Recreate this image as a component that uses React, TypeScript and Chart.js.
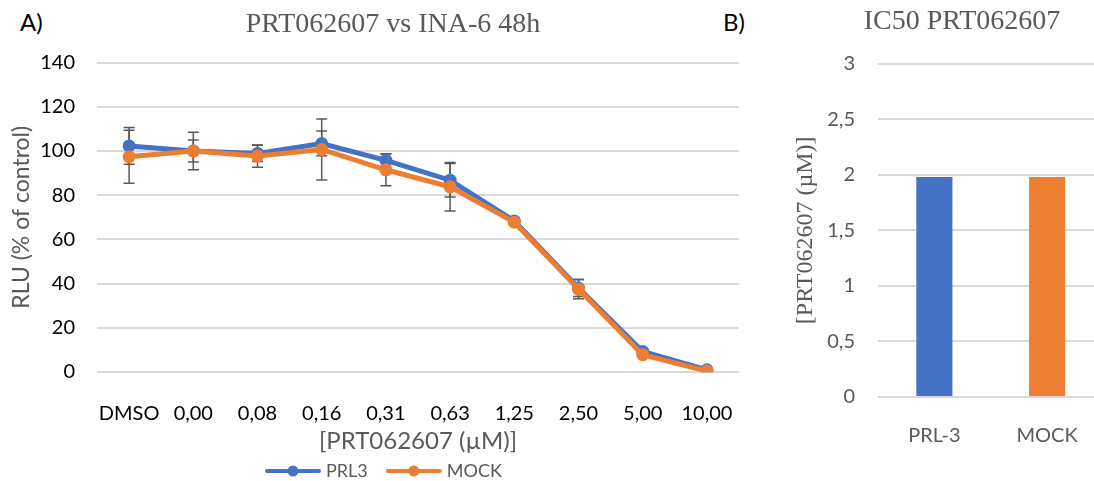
import React, { useEffect, useRef } from 'react';
import { Chart, registerables } from 'chart.js';

Chart.register(...registerables);

// ---- Data (panel A) ----
const concentrations = ['DMSO', '0,00', '0,08', '0,16', '0,31', '0,63', '1,25', '2,50', '5,00', '10,00'];
const prl3Values = [102.3, 100, 98.9, 103.4, 95.8, 86.8, 68.3, 38, 9.3, 1];
const mockValues = [97.4, 100, 97.7, 100.7, 91.5, 83.8, 67.8, 37.5, 7.8, 0.4];
const prl3Errors = [8.3, 8.5, 3.7, 5.6, 2.8, 7.6, 1.5, 3.8, 0.8, 0.3];
const mockErrors = [12, 5, 5, 13.8, 7.2, 11, 1, 4.4, 0.5, 0.2];
const seriesNames = ['PRL3', 'MOCK'];
const rluRange = [0, 140];
const rluStep = 20;

// ---- Data (panel B) ----
const ic50Groups = ['PRL-3', 'MOCK'];
const ic50Values = [1.98, 1.98];
const ic50Range = [0, 3];
const ic50Step = 0.5;

const BLUE = '#4472C4';
const ORANGE = '#ED7D31';
const GRID = '#D9D9D9';
const GREY = '#595959';
const SANS = 'Lato';
const SERIF = 'Liberation Serif';

// legend placement (left edge of first swatch box, vertical centre of row)
const LEGEND_PAD = 22;
const LEGEND_BOX_LEFT = 269;
const LEGEND_CENTER_Y = 471;
const LEGEND_FONT = 18;

function legendSwatch(color: string) {
  const c = document.createElement('canvas');
  c.width = 56;
  c.height = 14;
  const g = c.getContext('2d')!;
  g.strokeStyle = color;
  g.lineWidth = 4;
  g.lineCap = 'round';
  g.beginPath();
  g.moveTo(2, 7);
  g.lineTo(54, 7);
  g.stroke();
  g.fillStyle = color;
  g.beginPath();
  g.arc(28, 7, 5.5, 0, Math.PI * 2);
  g.fill();
  return c;
}

const errorBarPlugin = {
  id: 'errorBars',
  beforeDatasetsDraw(chart: any) {
    const { ctx } = chart;
    const xs = chart.scales.x;
    const ys = chart.scales.y;
    ctx.save();
    ctx.strokeStyle = GREY;
    ctx.lineWidth = 1.5;
    chart.data.datasets.forEach((ds: any) => {
      const errs: number[] = ds.errors || [];
      ds.data.forEach((v: number, i: number) => {
        const e = errs[i];
        if (!e) return;
        const px = xs.getPixelForValue(i);
        const top = ys.getPixelForValue(v + e);
        const bot = ys.getPixelForValue(v - e);
        ctx.beginPath();
        ctx.moveTo(px, top);
        ctx.lineTo(px, bot);
        ctx.moveTo(px - 5.5, top);
        ctx.lineTo(px + 5.5, top);
        ctx.moveTo(px - 5.5, bot);
        ctx.lineTo(px + 5.5, bot);
        ctx.stroke();
      });
    });
    ctx.restore();
  },
};

const legendPlacePlugin = {
  id: 'legendPlace',
  afterLayout(chart: any) {
    const lg = chart.legend;
    if (!lg) return;
    const w = lg.right - lg.left;
    lg.left = LEGEND_BOX_LEFT - LEGEND_PAD;
    lg.right = lg.left + w;
    lg.top = LEGEND_CENTER_Y - LEGEND_PAD - LEGEND_FONT / 2;
    lg.bottom = chart.height;
  },
};

export default function App() {
  const leftRef = useRef<HTMLCanvasElement>(null);
  const rightRef = useRef<HTMLCanvasElement>(null);

  useEffect(() => {
    const swatches = [legendSwatch(BLUE), legendSwatch(ORANGE)];
    const left = new Chart(leftRef.current!, {
      type: 'line',
      data: {
        labels: concentrations,
        datasets: [
          {
            label: seriesNames[0],
            data: prl3Values,
            errors: prl3Errors,
            borderColor: BLUE,
            backgroundColor: BLUE,
            pointBackgroundColor: BLUE,
            pointBorderColor: BLUE,
            borderWidth: 5,
            pointRadius: 6.5,
            pointBorderWidth: 0,
            tension: 0,
            order: 1,
          } as any,
          {
            label: seriesNames[1],
            data: mockValues,
            errors: mockErrors,
            borderColor: ORANGE,
            backgroundColor: ORANGE,
            pointBackgroundColor: ORANGE,
            pointBorderColor: ORANGE,
            borderWidth: 5,
            pointRadius: 6.5,
            pointBorderWidth: 0,
            tension: 0,
            order: 0,
          } as any,
        ],
      },
      options: {
        animation: false,
        responsive: false,
        layout: { padding: 0 },
        plugins: {
          title: {
            display: true,
            text: 'PRT062607 vs INA-6 48h',
            color: GREY,
            font: { family: SERIF, size: 28, weight: 'normal' },
            padding: { top: 8, bottom: 21 },
          },
          legend: {
            position: 'bottom',
            align: 'start',
            maxHeight: 26,
            labels: {
              usePointStyle: true,
              pointStyleWidth: 48,
              color: GREY,
              font: { family: SANS, size: LEGEND_FONT },
              padding: LEGEND_PAD,
              sort: (a: any, b: any) => a.datasetIndex - b.datasetIndex,
              generateLabels: (chart: any) => {
                const items = Chart.defaults.plugins.legend.labels.generateLabels(chart);
                items.forEach((it: any) => {
                  it.pointStyle = swatches[it.datasetIndex];
                });
                return items;
              },
            },
          },
          tooltip: { enabled: false },
        },
        scales: {
          x: {
            type: 'category',
            offset: true,
            grid: { display: false },
            border: { display: false },
            ticks: { color: '#000', font: { family: SANS, size: 20 }, padding: 22, maxRotation: 0, autoSkip: false },
            title: {
              display: true,
              text: '[PRT062607 (µM)]',
              color: GREY,
              font: { family: SANS, size: 24 },
              padding: { top: 8, bottom: -1 },
            },
            afterFit: (s: any) => {
              s.height = 83;
            },
          },
          y: {
            min: rluRange[0],
            max: rluRange[1],
            ticks: { stepSize: rluStep, color: '#000', font: { family: SANS, size: 20 }, padding: 22 },
            grid: { color: GRID, drawTicks: false, lineWidth: 2 },
            border: { display: false },
            title: {
              display: true,
              text: 'RLU (% of control)',
              color: GREY,
              font: { family: SANS, size: 23 },
              padding: { top: 8, bottom: 0 },
            },
            afterFit: (s: any) => {
              s.width = 97;
            },
          },
          yPad: {
            position: 'right',
            grid: { display: false },
            ticks: { display: false },
            border: { display: false },
            afterFit: (s: any) => {
              s.width = 47;
            },
          },
        },
      } as any,
      plugins: [errorBarPlugin, legendPlacePlugin],
    });

    const right = new Chart(rightRef.current!, {
      type: 'bar',
      data: {
        labels: ic50Groups,
        datasets: [
          {
            data: ic50Values,
            backgroundColor: [BLUE, ORANGE],
            barPercentage: 0.32,
            categoryPercentage: 1,
          },
        ],
      },
      options: {
        animation: false,
        responsive: false,
        layout: { padding: 0 },
        plugins: {
          legend: { display: false },
          tooltip: { enabled: false },
          title: {
            display: true,
            text: 'IC50 PRT062607',
            color: GREY,
            font: { family: SERIF, size: 28, weight: 'normal' },
            padding: { top: 5, bottom: 25 },
          },
        },
        scales: {
          x: {
            grid: { display: false },
            border: { display: false },
            ticks: { color: GREY, font: { family: SANS, size: 20 }, padding: 19 },
            afterFit: (s: any) => {
              s.height = 84;
            },
          },
          y: {
            min: ic50Range[0],
            max: ic50Range[1],
            ticks: {
              stepSize: ic50Step,
              color: GREY,
              font: { family: SANS, size: 20 },
              padding: 23,
              callback: (v: any) => String(v).replace('.', ','),
            },
            grid: { color: GRID, drawTicks: false, lineWidth: 2 },
            border: { display: false },
            title: {
              display: true,
              text: '[PRT062607 (µM)]',
              color: GREY,
              font: { family: SERIF, size: 24 },
              padding: { top: 71, bottom: 0 },
            },
            afterFit: (s: any) => {
              s.width = 158;
            },
          },
          yPad: {
            position: 'right',
            grid: { display: false },
            ticks: { display: false },
            border: { display: false },
            afterFit: (s: any) => {
              s.width = 100.5;
            },
          },
        },
      } as any,
    });

    return () => {
      left.destroy();
      right.destroy();
    };
  }, []);

  const labelStyle: React.CSSProperties = {
    position: 'absolute',
    top: 10,
    font: `24px ${SANS}`,
    lineHeight: 1,
    color: '#000',
  };

  return (
    <div style={{ position: 'fixed', left: 0, top: 0, width: 1094, height: 481, overflow: 'hidden', background: '#fff' }}>
      <div style={{ ...labelStyle, left: 20 }}>A)</div>
      <div style={{ ...labelStyle, left: 723 }}>B)</div>
      <canvas ref={leftRef} width={786} height={481} style={{ position: 'absolute', left: 0, top: 0 }} />
      <canvas ref={rightRef} width={484} height={481} style={{ position: 'absolute', left: 720, top: 0 }} />
    </div>
  );
}
